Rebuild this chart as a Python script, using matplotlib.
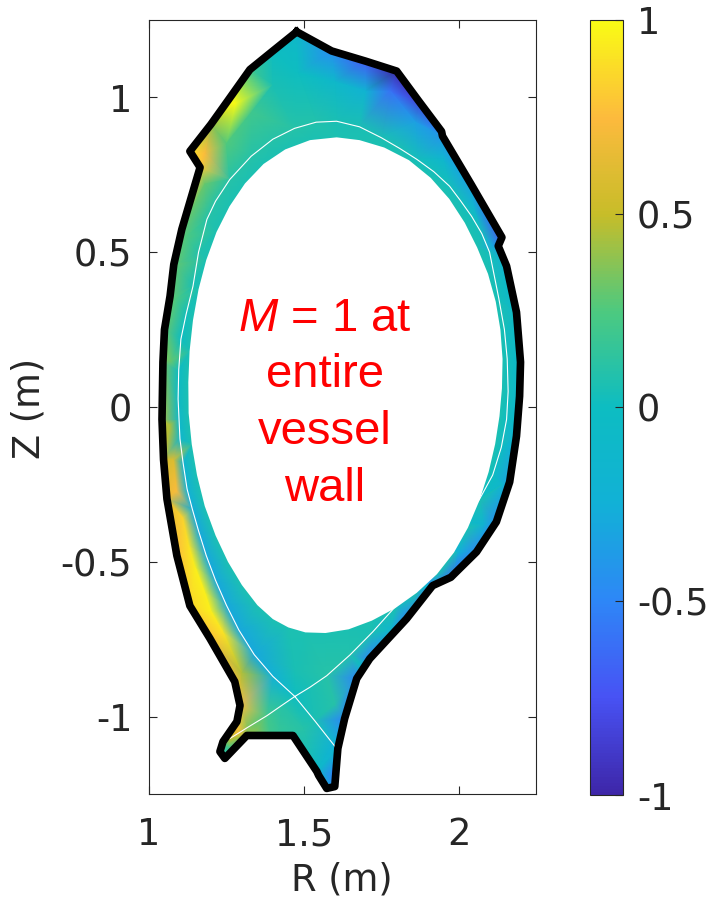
import numpy as np
import matplotlib.pyplot as plt
import matplotlib.tri as mtri
from matplotlib.colors import LinearSegmentedColormap
from matplotlib.patches import Polygon

plt.rcParams['font.family'] = 'DejaVu Sans'
plt.rcParams['mathtext.fontset'] = 'custom'
plt.rcParams['mathtext.it'] = 'Liberation Sans:italic'
plt.rcParams['mathtext.rm'] = 'Liberation Sans'

# vessel wall outline (m) and field value at each wall vertex
wall_r = [1.477, 1.590, 1.700, 1.800, 1.870, 1.945, 1.948, 2.040, 2.140, 2.128,
          2.155, 2.187, 2.200, 2.197, 2.187, 2.165, 2.122, 2.058, 1.985, 1.975,
          1.916, 1.832, 1.713, 1.671, 1.632, 1.610, 1.600, 1.574, 1.548, 1.542,
          1.465, 1.390, 1.316, 1.245, 1.229, 1.239, 1.284, 1.294, 1.277, 1.197,
          1.132, 1.090, 1.058, 1.047, 1.042, 1.045, 1.050, 1.068, 1.080, 1.106,
          1.165, 1.132, 1.200, 1.255, 1.326, 1.400]
wall_z = [1.212, 1.150, 1.117, 1.085, 0.990, 0.890, 0.875, 0.720, 0.548, 0.520,
          0.455, 0.306, 0.145, 0.035, -0.094, -0.242, -0.371, -0.468, -0.540, -0.550,
          -0.577, -0.684, -0.813, -0.877, -1.006, -1.103, -1.226, -1.232, -1.190, -1.177,
          -1.061, -1.061, -1.061, -1.135, -1.113, -1.081, -1.016, -0.964, -0.887, -0.748,
          -0.642, -0.480, -0.297, -0.170, -0.040, 0.145, 0.250, 0.358, 0.460, 0.574,
          0.774, 0.826, 0.913, 0.990, 1.090, 1.150]
wall_m = [-0.1, -0.45, -0.7, -1.0, -0.85, -0.55, -0.4, -0.35, -0.75, -0.35,
          -0.2, -0.1, -0.1, -0.15, -0.25, -0.35, -0.45, -0.5, -0.6, -0.6,
          -0.5, -0.5, -0.5, -0.5, -0.5, -0.6, -0.5, -0.3, -0.1, -0.05,
          0.1, 0.2, 0.4, 0.1, 0.1, 0.3, 0.8, 0.75, 0.7, 0.75,
          0.85, 0.75, 0.65, 0.55, 0.45, 0.35, 0.3, 0.3, 0.3, 0.3,
          0.8, 0.9, 0.4, 1.0, 0.2, 0.0]

# boundary of the confined region (left white)
core_r = [1.606, 1.680, 1.760, 1.840, 1.910, 1.970, 2.020, 2.060, 2.095, 2.120,
          2.135, 2.142, 2.140, 2.132, 2.118, 2.097, 2.068, 2.030, 1.985, 1.930,
          1.865, 1.795, 1.720, 1.645, 1.570, 1.505, 1.450, 1.400, 1.350, 1.300,
          1.255, 1.215, 1.180, 1.155, 1.138, 1.128, 1.127, 1.131, 1.142, 1.160,
          1.185, 1.218, 1.260, 1.310, 1.370, 1.440, 1.520]
core_z = [0.871, 0.862, 0.838, 0.797, 0.740, 0.672, 0.595, 0.515, 0.430, 0.340,
          0.250, 0.155, 0.060, -0.030, -0.120, -0.210, -0.300, -0.390, -0.470, -0.540,
          -0.600, -0.650, -0.690, -0.718, -0.730, -0.728, -0.712, -0.685, -0.640, -0.575,
          -0.500, -0.415, -0.320, -0.220, -0.120, -0.020, 0.080, 0.180, 0.280, 0.380,
          0.475, 0.565, 0.648, 0.722, 0.785, 0.832, 0.862]
core_m = 0.06

# separatrix, inner strike point -> X-point -> round the plasma -> X-point -> outer strike point
sep_r = [1.261, 1.320, 1.381, 1.430, 1.471, 1.520, 1.574, 1.650, 1.723, 1.800,
         1.884, 1.960, 2.020, 2.068, 2.110, 2.138, 2.155, 2.160, 2.157, 2.148,
         2.130, 2.100, 2.075, 2.042, 2.005, 1.971, 1.920, 1.865, 1.810, 1.750,
         1.680, 1.606, 1.540, 1.470, 1.400, 1.330, 1.261, 1.215, 1.187, 1.160,
         1.142, 1.120, 1.103, 1.096, 1.094, 1.097, 1.100, 1.110, 1.123, 1.140,
         1.160, 1.185, 1.215, 1.250, 1.290, 1.340, 1.400, 1.471, 1.535, 1.606]
sep_z = [-1.071, -1.034, -0.997, -0.963, -0.935, -0.905, -0.868, -0.800, -0.726, -0.640,
         -0.532, -0.440, -0.370, -0.297, -0.220, -0.130, -0.040, 0.050, 0.155, 0.250,
         0.350, 0.500, 0.560, 0.616, 0.668, 0.713, 0.760, 0.800, 0.835, 0.870,
         0.905, 0.923, 0.920, 0.900, 0.865, 0.810, 0.735, 0.665, 0.606, 0.500,
         0.390, 0.300, 0.219, 0.120, 0.026, -0.040, -0.103, -0.180, -0.265, -0.330,
         -0.400, -0.480, -0.560, -0.640, -0.720, -0.800, -0.870, -0.935, -1.013, -1.103]
# field value just outside the separatrix, same order as sep_r
sep_m = [0.5, 0.35, 0.2, 0.1, 0.0, 0.05, 0.1, 0.08, 0.05, 0.03,
         0.0, 0.0, 0.0, 0.0, 0.0, 0.0, 0.0, 0.02, 0.03, 0.03,
         0.03, 0.03, 0.03, 0.03, 0.03, 0.03, 0.03, 0.03, 0.05, 0.05,
         0.05, 0.05, 0.08, 0.1, 0.1, 0.1, 0.1, 0.1, 0.1, 0.08,
         0.05, 0.03, 0.0, -0.03, -0.05, -0.1, -0.15, -0.2, -0.25, -0.28,
         -0.3, -0.3, -0.3, -0.3, -0.3, -0.3, -0.25, 0.0, 0.05, -0.2]

# field values in the middle of the scrape-off layer and divertor
sol_r = [1.40, 1.48, 1.60, 1.70, 1.78, 1.86, 1.95, 2.05, 2.11, 2.15,
         2.18, 2.18, 2.14, 2.08, 2.00, 1.90, 1.78, 1.68, 1.60, 1.60,
         1.585, 1.50, 1.42, 1.35, 1.29, 1.26, 1.47, 1.30, 1.24, 1.18,
         1.13, 1.09, 1.068, 1.07, 1.085, 1.12, 1.18, 1.18, 1.28, 1.25,
         1.33, 1.20, 1.15, 1.11, 1.08]
sol_z = [1.04, 1.08, 1.05, 1.02, 1.02, 0.92, 0.80, 0.64, 0.52, 0.40,
         0.15, -0.05, -0.25, -0.38, -0.47, -0.58, -0.72, -0.83, -0.96, -1.08,
         -1.19, -1.04, -1.04, -1.04, -1.05, -1.10, -0.85, -0.86, -0.73, -0.60,
         -0.45, -0.27, -0.06, 0.15, 0.35, 0.55, 0.72, 0.82, 0.98, 0.85,
         0.95, -0.66, -0.52, -0.36, -0.17]
sol_m = [0.05, 0.0, -0.1, -0.2, -0.6, -0.35, -0.15, -0.15, -0.3, -0.05,
         -0.05, -0.1, -0.15, -0.2, -0.25, -0.25, -0.15, 0.0, 0.1, -0.25,
         -0.45, 0.1, 0.15, 0.35, 0.7, 0.2, 0.05, 0.45, 0.9, 0.95,
         0.9, 0.75, 0.45, 0.3, 0.25, 0.25, 0.3, 0.75, 1.0, 0.25,
         0.2, 0.95, 0.95, 0.85, 0.6]

cbar_ticks = [-1, -0.5, 0, 0.5, 1]
cbar_labels = ['-1', '-0.5', '0', '0.5', '1']

parula = LinearSegmentedColormap.from_list('parula', [
    (0.2422, 0.1504, 0.6603), (0.2810, 0.3228, 0.9579), (0.1786, 0.5289, 0.9682),
    (0.0689, 0.6948, 0.8394), (0.05, 0.74, 0.76), (0.30, 0.79, 0.50),
    (0.78, 0.74, 0.16), (0.99, 0.73, 0.24), (0.9769, 0.9839, 0.0805)])

fig = plt.figure(figsize=(7.11, 9.01), dpi=100)
ax = fig.add_axes([149/711, 1 - 794/901, 387/711, 774/901])

pts = np.column_stack([
    np.concatenate([wall_r, core_r, sep_r, sol_r]),
    np.concatenate([wall_z, core_z, sep_z, sol_z]),
    np.concatenate([wall_m, np.full(len(core_r), core_m), sep_m, sol_m])])
# the separatrix passes the X-point twice
_, keep = np.unique(pts[:, :2].round(4), axis=0, return_index=True)
pts = pts[np.sort(keep)]

tri = mtri.Triangulation(pts[:, 0], pts[:, 1])
tpc = ax.tripcolor(tri, pts[:, 2], shading='gouraud', cmap=parula,
                   vmin=-1, vmax=1, zorder=1)
wall_patch = Polygon(np.column_stack([wall_r, wall_z]), closed=True,
                     transform=ax.transData, facecolor='none', edgecolor='none')
ax.add_patch(wall_patch)
tpc.set_clip_path(wall_patch)

ax.fill(core_r, core_z, color='white', lw=0, zorder=2)
ax.plot(sep_r, sep_z, color='white', lw=0.8, zorder=3)
ax.plot(wall_r + wall_r[:1], wall_z + wall_z[:1], color='black', lw=5.5,
        solid_joinstyle='round', zorder=4)

ax.text(1.568, 0.01, '$M$ = 1 at\nentire\nvessel\nwall', color='red',
        family='Liberation Sans', fontsize=34, ha='center', va='center',
        multialignment='center', linespacing=1.38, zorder=5)

ax.set_xlim(1.0, 2.25)
ax.set_ylim(-1.25, 1.25)
ax.set_xticks([1, 1.5, 2])
ax.set_xticklabels(['1', '1.5', '2'])
ax.set_yticks([-1, -0.5, 0, 0.5, 1])
ax.set_yticklabels(['-1', '-0.5', '0', '0.5', '1'])
ax.tick_params(direction='in', length=6, width=0.8, top=True, right=True,
               labelsize=26.5, colors='#262626')
ax.tick_params(axis='x', pad=16)
ax.tick_params(axis='y', pad=12)
for s in ax.spines.values():
    s.set_color('#262626')
    s.set_linewidth(0.8)

fig.text(342/711, 1 - 880/901, 'R (m)', fontsize=26.5, color='#262626',
         ha='center', va='center')
fig.text(29/711, 1 - 408/901, 'Z (m)', fontsize=26.5, color='#262626',
         ha='center', va='center', rotation=90)

cax = fig.add_axes([590/711, 1 - 795/901, 33/711, 775/901])
cb = fig.colorbar(tpc, cax=cax, ticks=cbar_ticks)
cb.ax.set_yticklabels(cbar_labels)
cb.ax.tick_params(direction='in', length=6, width=0.8, labelsize=26.5,
                  colors='#262626', pad=10)
cb.outline.set_edgecolor('#262626')
cb.outline.set_linewidth(0.8)

fig.savefig('out.png', dpi=100)
